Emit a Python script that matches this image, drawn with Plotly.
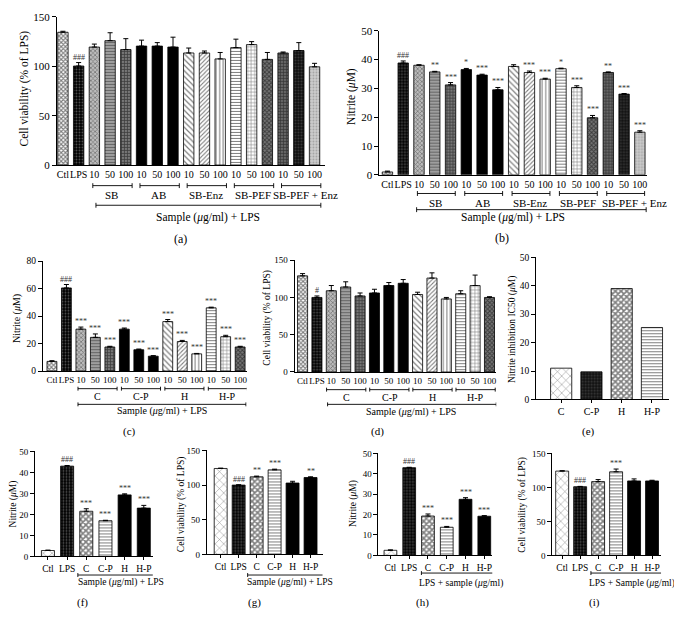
import plotly.graph_objects as go

W, H = 682, 633
OX, OY = 8, 8            # default page margin of the html body
FW, FH = W - OX, H - OY  # figure size so that it fills the window exactly
FONT = "Liberation Serif, DejaVu Serif, serif"

# ---------------- data ----------------
a_labels = ["Ctl", "LPS"] + ["10", "50", "100"] * 5
a_vals = [134.5, 100.3, 119.5, 126, 117, 120.5, 120.5, 119.5, 113.5, 113.5, 107.5, 119, 122, 107, 113.5, 116, 99.5]
a_errs = [1, 3.5, 3, 8, 11, 6, 3.5, 10, 5, 2, 6.5, 8.5, 3, 7, 1, 8, 3.5]
a_marks = ["", "###"] + [""] * 15
a_groups = ["SB", "AB", "SB-Enz", "SB-PEF", "SB-PEF + Enz"]

b_labels = a_labels
b_vals = [1.0, 38.8, 38.0, 35.7, 31.2, 36.5, 34.6, 29.5, 37.6, 35.5, 33.2, 36.8, 30.3, 19.8, 35.5, 28.0, 14.8]
b_errs = [0.3, 0.7, 0.2, 0.2, 0.8, 0.4, 0.3, 0.8, 0.6, 0.5, 0.3, 0.2, 0.6, 0.8, 0.2, 0.2, 0.5]
b_marks = ["", "###", "", "**", "***", "*", "***", "***", "", "***", "***", "*", "***", "***", "**", "***", "***"]

c_labels = ["Ctl", "LPS"] + ["10", "50", "100"] * 4
c_vals = [7, 60.5, 30.5, 24.5, 17.5, 30.5, 15.5, 10.8, 36, 21.5, 12.5, 46, 25, 17.5]
c_errs = [0.5, 2.5, 1.5, 2.5, 0.5, 0.8, 0.5, 0.4, 1.5, 0.8, 0.3, 0.5, 1, 0.5]
c_marks = ["", "###"] + ["***"] * 12
cd_groups = ["C", "C-P", "H", "H-P"]

d_labels = ["Ctl", "LPS"] + ["10", "50", "100"] * 4
d_vals = [129, 100, 109, 114, 102, 106, 116, 119, 104, 126, 98, 105, 116, 100]
d_errs = [3, 2, 7, 7, 4, 5, 4, 5, 3, 7, 2, 4, 14, 1]
d_marks = ["", "#"] + [""] * 12

e_labels = ["C", "C-P", "H", "H-P"]
e_vals = [11, 9.7, 39, 25.3]

fi_labels = ["Ctl", "LPS", "C", "C-P", "H", "H-P"]
f_vals = [2.8, 43, 21.5, 17, 29.3, 23]
f_errs = [0.2, 0.3, 1.2, 0.2, 0.5, 1.3]
f_marks = ["", "###", "***", "***", "***", "***"]
g_vals = [124, 100, 112, 122, 103, 111]
g_errs = [0.5, 0.5, 1, 1, 2.5, 1]
g_marks = ["", "###", "**", "***", "", "**"]
h_vals = [2.5, 43, 19.3, 13.8, 27.5, 19.2]
h_errs = [0.2, 0.2, 1.0, 0.4, 0.8, 0.3]
h_marks = ["", "###", "***", "***", "***", "***"]
i_vals = [124, 101, 108.5, 123, 109.5, 109.5]
i_errs = [0.5, 0.5, 3, 4, 3, 1]
i_marks = ["", "###", "", "***", "", ""]

# ---------------- styles ----------------
S = {
    'ctl':   ('x', '#000', '#fff', 3, 0.6),
    'lps':   ('.', '#aaa', '#000', 3, 0.3),
    'chkg':  ('x', '#333', '#bbb', 3, 0.45),
    'hstg':  ('-', '#222', '#aaa', 3, 0.45),
    'gridd': ('+', '#000', '#777', 3, 0.45),
    'blk':   ('', '#000', '#000', 8, 0.3),
    'bsl':   ('\\', '#000', '#fff', 4, 0.3),
    'fsl':   ('/', '#000', '#fff', 3, 0.35),
    'vln':   ('|', '#000', '#fff', 3.5, 0.3),
    'hln':   ('-', '#000', '#fff', 3, 0.35),
    'grd':   ('+', '#000', '#fff', 3.5, 0.3),
    'chkd':  ('x', '#000', '#777', 3, 0.55),
    'grdg':  ('+', '#000', '#666', 3, 0.4),
    'dotd':  ('.', '#666', '#111', 3, 0.35),
    'dotl':  ('.', '#777', '#ccc', 3, 0.3),
    'dia':   ('x', '#000', '#fff', 6, 0.15),
    'chkw':  ('x', '#000', '#fff', 4, 0.65),
}
a_styles = ['ctl', 'lps', 'chkg', 'hstg', 'gridd', 'blk', 'blk', 'blk', 'bsl', 'fsl', 'vln',
            'hln', 'grd', 'chkd', 'grdg', 'dotd', 'dotl']
c_styles = ['ctl', 'lps', 'chkg', 'hstg', 'gridd', 'blk', 'blk', 'blk', 'bsl', 'fsl', 'vln',
            'hln', 'grd', 'chkd']
e_styles = ['dia', 'dotd', 'chkw', 'hln']
f_styles = ['dia', 'lps', 'chkw', 'hln', 'blk', 'blk']

fig = go.Figure()
layout = dict(annotations=[], shapes=[])


def px_x(x):
    return (x - OX) / FW


def px_y(y):
    return 1 - (y - OY) / FH


def txt(x, y, s, size=10, angle=0, color='black', xref='paper', xanchor='center'):
    layout['annotations'].append(dict(
        x=x if xref != 'paper' else px_x(x), y=px_y(y), xref=xref, yref='paper',
        text=s, showarrow=False, textangle=angle, xanchor=xanchor, yanchor='middle',
        font=dict(family=FONT, size=size, color=color)))


def bracket(ax, x0, x1, y, tick=2.5):
    for (xa, ya, xb, yb) in [(x0, y, x1, y), (x0, y - tick, x0, y + tick), (x1, y - tick, x1, y + tick)]:
        layout['shapes'].append(dict(type='line', xref=ax, yref='paper', x0=xa, x1=xb,
                                     y0=px_y(ya), y1=px_y(yb),
                                     line=dict(color='black', width=0.9)))


def panel(k, L, R, c0, sp, y0, ytop, ymax, dtick, labels, vals, errs, marks, styles,
          bw=0.66, tfont=10, yfont=10, xticks=False):
    n = len(vals)
    xs = list(range(n))
    sfx = '' if k == 1 else str(k)
    for i in xs:
        shp, fg, bg, sz, sol = S[styles[i]]
        marker = dict(color=bg, line=dict(color='black', width=0.8))
        if shp:
            marker['pattern'] = dict(shape=shp, fgcolor=fg, bgcolor=bg, size=sz,
                                     solidity=sol)
        tr = dict(x=[i], y=[vals[i]], width=bw, marker=marker, xaxis='x' + sfx,
                  yaxis='y' + sfx, hoverinfo='skip')
        if errs is not None:
            tr['error_y'] = dict(type='data', array=[errs[i]], arrayminus=[0], symmetric=False,
                                 color='black', thickness=1, width=2.5)
        fig.add_trace(go.Bar(**tr))
    layout['xaxis' + sfx] = dict(
        domain=[px_x(L), px_x(R)], range=[(L - c0) / sp, (R - c0) / sp],
        anchor='y' + sfx, tickvals=xs, ticktext=labels, showline=True, linecolor='black',
        linewidth=1, showgrid=False, zeroline=False,
        ticks='outside' if xticks else '', ticklen=3, tickcolor='black',
        tickfont=dict(family=FONT, size=tfont, color='black'), tickangle=0)
    layout['yaxis' + sfx] = dict(
        domain=[px_y(y0), px_y(ytop)], range=[0, ymax], anchor='x' + sfx,
        tick0=0, dtick=dtick, showline=True, linecolor='black', linewidth=1,
        showgrid=False, zeroline=False, ticks='outside', ticklen=4, tickcolor='black',
        tickfont=dict(family=FONT, size=yfont, color='black'))
    if marks:
        for i, m in enumerate(marks):
            if m:
                layout['annotations'].append(dict(
                    x=i, y=vals[i] + (errs[i] if errs else 0), xref='x' + sfx, yref='y' + sfx,
                    text=m, showarrow=False, yanchor='bottom', yshift=-1,
                    font=dict(family=FONT, size=8, color='#333333')))
    return 'x' + sfx


# (a)
ax = panel(1, 57, 325, 63, 15.75, 162, 11, 150, 50, a_labels, a_vals, a_errs, a_marks, a_styles,
           bw=0.66, tfont=10, yfont=11)
for g, name in enumerate(a_groups):
    s = 2 + 3 * g
    bracket(ax, s - 0.1, s + 2.4, 183)
    txt(s + (1.1 if g < 4 else 1.4), 193, name, 11, xref=ax)
bracket(ax, 2.1, 16.4, 203)
txt(208, 215, "Sample (<i>μ</i>g/ml) + LPS", 11.5)
txt(181, 237, "(a)", 12)
txt(25, 84, "Cell viability (% of LPS)", 11.5, angle=-90)

# (b)
ax = panel(2, 380, 648, 388, 15.8, 172, 25, 50, 10, b_labels, b_vals, b_errs, b_marks, a_styles,
           bw=0.66, tfont=10, yfont=11)
for g, name in enumerate(a_groups):
    s = 2 + 3 * g
    bracket(ax, s - 0.1, s + 2.3, 191)
    txt(s + (1.05 if g < 4 else 1.65), 200.5, name, 11, xref=ax)
bracket(ax, 1.85, 16.4, 207.5)
txt(514, 215, "Sample (<i>μ</i>g/ml) + LPS", 11.5)
txt(503, 236, "(b)", 12)
txt(352, 92, "Nitrite (<i>μ</i>M)", 11.5, angle=-90)

# (c)
ax = panel(3, 43, 247, 52, 14.5, 372, 260, 80, 20, c_labels, c_vals, c_errs, c_marks, c_styles,
           bw=0.68, tfont=9, yfont=9.5)
for g, name in enumerate(cd_groups):
    s = 2 + 3 * g
    bracket(ax, s - 0.2, s + 2.5, 390, 2)
    txt(s + 1.15, 398, name, 10, xref=ax)
bracket(ax, 1.8, 13.4, 406, 2)
txt(162, 413, "Sample (<i>μ</i>g/ml) + LPS", 10)
txt(130, 434, "(c)", 11)
txt(17, 318, "Nitrite (<i>μ</i>M)", 10, angle=-90)

# (d)
ax = panel(4, 295, 497, 303, 14.4, 373, 259, 150, 50, d_labels, d_vals, d_errs, d_marks, c_styles,
           bw=0.7, tfont=9, yfont=9)
for g, name in enumerate(cd_groups):
    s = 2 + 3 * g
    bracket(ax, s - 0.33, s + 2.4, 391, 2)
    txt(s + 1.05, 398.5, name, 10, xref=ax)
bracket(ax, 1.74, 13.47, 406, 2)
txt(412, 414, "Sample (<i>μ</i>g/ml) + LPS", 10)
txt(378, 434, "(d)", 11)
txt(267, 318, "Cell viability (% of LPS)", 9.5, angle=-90)

# (e)
ax = panel(5, 537, 670, 562, 30.3, 401, 256, 50, 10, e_labels, e_vals, None, None, e_styles,
           bw=0.7, tfont=10, yfont=9.5, xticks=True)
txt(589, 434, "(e)", 11)
txt(514, 330, "Nitrite inhibition IC50 (<i>μ</i>M)", 9.5, angle=-90)

# (f)
ax = panel(6, 35, 153, 48, 19.2, 561, 454, 50, 10, fi_labels, f_vals, f_errs, f_marks, f_styles,
           bw=0.68, tfont=9.5, yfont=9, xticks=True)
bracket(ax, 1.56, 6.0, 580, 2)
txt(121, 588, "Sample (<i>μ</i>g/ml) + LPS", 9.5)
txt(83, 608, "(f)", 11)
txt(13, 507, "Nitrite (<i>μ</i>M)", 9.5, angle=-90)

# (g)
ax = panel(7, 207, 323, 221, 18, 559, 453, 150, 50, fi_labels, g_vals, g_errs, g_marks, f_styles,
           bw=0.72, tfont=9.5, yfont=9, xticks=True)
bracket(ax, 1.5, 6.2, 580, 2)
txt(290, 588, "Sample (<i>μ</i>g/ml) + LPS", 9.5)
txt(255, 608, "(g)", 11)
txt(182, 508, "Cell viability (% of LPS)", 9.5, angle=-90)

# (h)
ax = panel(8, 379, 493, 391, 18.8, 560, 456, 50, 10, fi_labels, h_vals, h_errs, h_marks, f_styles,
           bw=0.68, tfont=9.5, yfont=9, xticks=True)
bracket(ax, 1.65, 5.96, 578, 2)
txt(462, 589, "LPS + sample (<i>μ</i>g/ml)", 9.5)
txt(423, 608, "(h)", 11)
txt(354, 507, "Nitrite (<i>μ</i>M)", 9.5, angle=-90)

# (i)
ax = panel(9, 553, 662, 563, 18, 560, 456, 150, 50, fi_labels, i_vals, i_errs, i_marks, f_styles,
           bw=0.72, tfont=9.5, yfont=9, xticks=True)
bracket(ax, 1.6, 6.1, 578, 2)
txt(633, 589, "LPS + Sample (<i>μ</i>g/ml)", 9.5)
txt(595, 608, "(i)", 11)
txt(523, 508, "Cell viability (% of LPS)", 9.5, angle=-90)

fig.update_layout(**layout)
fig.update_layout(width=FW, height=FH, margin=dict(l=0, r=0, t=0, b=0),
                  paper_bgcolor='white', plot_bgcolor='white', showlegend=False,
                  barmode='overlay', font=dict(family=FONT, color='black'))
fig.write_html("out.html")
